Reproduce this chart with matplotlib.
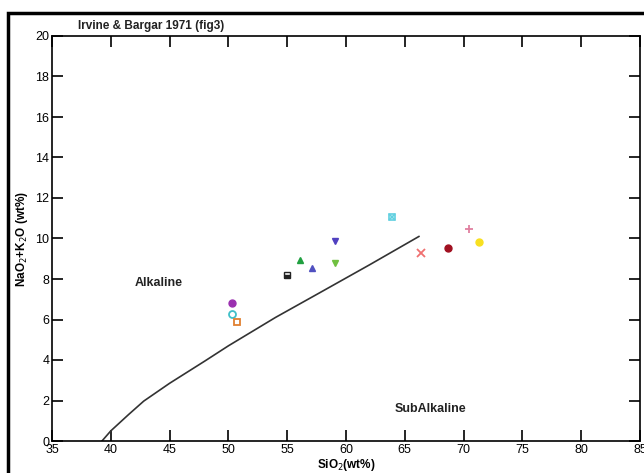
import matplotlib
matplotlib.use("Agg")
import matplotlib.pyplot as plt
from matplotlib.patches import Rectangle

plt.rcParams['font.family'] = ['Liberation Sans', 'DejaVu Sans']

# Irvine & Baragar alkaline/subalkaline dividing line
line_x = [39.25, 40.0, 41.5, 42.8, 45.0, 48.0, 50.0, 54.0, 57.7, 62.0, 66.2]
line_y = [0.0, 0.5, 1.3, 1.97, 2.85, 3.95, 4.7, 6.1, 7.3, 8.7, 10.1]

# Samples
sio2 = [50.3, 50.3, 50.7, 55.0, 56.1, 57.1, 59.1, 59.1, 63.9, 66.4, 68.7, 70.5, 71.3]
alk = [6.8, 6.27, 5.86, 8.2, 8.94, 8.53, 9.9, 8.77, 11.05, 9.3, 9.55, 10.45, 9.84]
markers = ['o', 'o', 's', 's', '^', '^', 'v', 'v', 's', 'x', 'o', '+', 'o']
colors = ['#9b30b0', '#40c0c8', '#e08030', '#222222', '#20a040', '#5050c0',
          '#5040c0', '#70c040', '#60d0e0', '#f07070', '#a01020', '#e080a0', '#f8e020']
filled = [True, False, False, 'half', True, True, True, True, 'sx', False, True, False, True]

xticks = [35, 40, 45, 50, 55, 60, 65, 70, 75, 80, 85]
yticks = [0, 2, 4, 6, 8, 10, 12, 14, 16, 18, 20]

fig = plt.figure(figsize=(6.44, 4.73), dpi=100)
ax = fig.add_axes([52/644, 32/473, 588/644, 405/473])

ax.plot(line_x, line_y, color='#333333', lw=1.2)

for x, y, m, c, f in zip(sio2, alk, markers, colors, filled):
    if f is True:
        ax.plot(x, y, marker=m, color=c, ms=5, mec=c, ls='none')
    elif f == 'half':
        ax.plot(x, y, marker=m, color=c, ms=5, mec=c, fillstyle='bottom',
                mfc=c, mfcalt='white', ls='none')
    elif f == 'sx':
        ax.plot(x, y, marker='s', color=c, ms=5, mfc='none', mec=c, mew=1.2, ls='none')
        ax.plot(x, y, marker='x', color=c, ms=4, mew=1.2, ls='none')
    else:
        ax.plot(x, y, marker=m, color=c, ms=6 if m in ('x', '+') else 5,
                mfc='none', mec=c, mew=1.3, ls='none')

ax.set_xlim(35, 85)
ax.set_ylim(0, 20)
ax.set_xticks(xticks)
ax.set_yticks(yticks)
ax.tick_params(direction='in', length=8, width=1.2, top=True, right=True,
               labelsize=9, pad=2)
for s in ax.spines.values():
    s.set_linewidth(1.2)

ax.set_xlabel('SiO$_2$(wt%)', fontsize=8.5, fontweight='bold', labelpad=1)
ax.set_ylabel('NaO$_2$+K$_2$O (wt%)', fontsize=8.5, fontweight='bold', labelpad=4)

ax.text(44.1, 7.8, 'Alkaline', fontsize=9, fontweight='bold', ha='center', va='center', color='#222222')
ax.text(67.2, 1.6, 'SubAlkaline', fontsize=9, fontweight='bold', ha='center', va='center', color='#222222')

fig.text(78/644, 1 - 26/473, 'Irvine & Bargar 1971 (fig3)', fontsize=8.5,
         fontweight='bold', ha='left', va='center', color='#222222')

fig.patches.append(Rectangle((8/644, -0.1), 2.0, (473 - 13)/473 + 0.1,
                             transform=fig.transFigure, fill=False,
                             edgecolor='black', lw=2.5, zorder=10))

fig.savefig('out.png', dpi=100)
